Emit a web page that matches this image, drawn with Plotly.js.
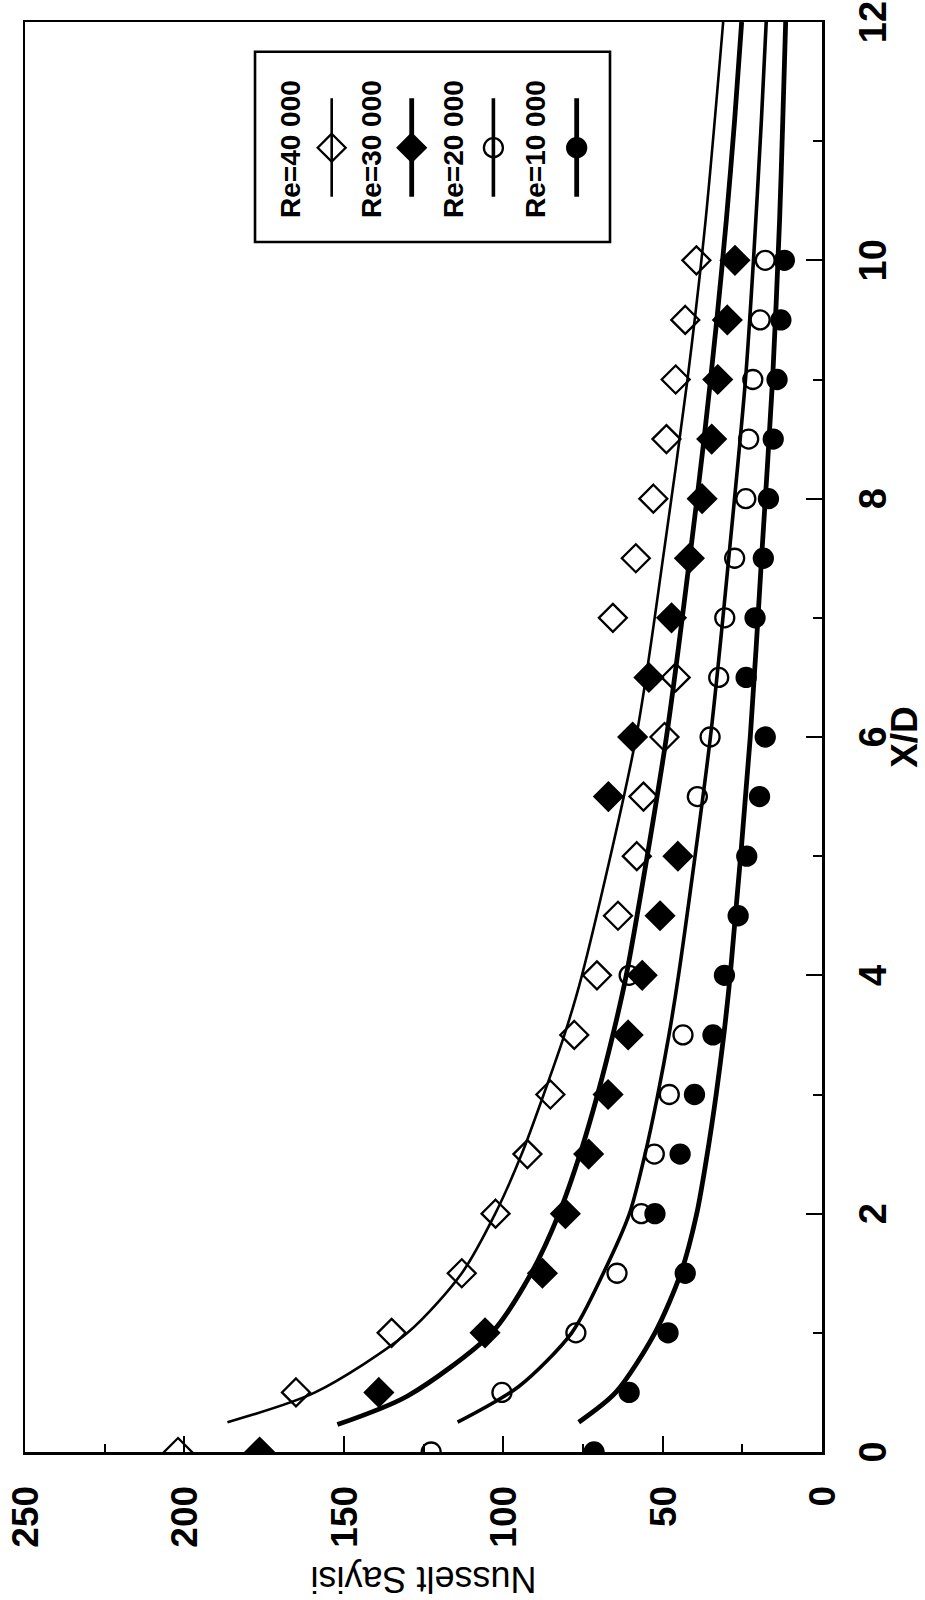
<!DOCTYPE html>
<html>
<head>
<meta charset="utf-8">
<script src="https://cdn.plot.ly/plotly-3.0.1.min.js"></script>
<style>
  html, body { margin:0; padding:0; background:#ffffff; width:925px; height:1600px; overflow:hidden; }
  #wrap { position:absolute; left:0; top:0; width:1600px; height:925px;
          transform-origin:0 0; transform:translateY(1600px) rotate(-90deg); }
  #chart { width:1600px; height:925px; }
</style>
</head>
<body>
<div id="wrap"><div id="chart"></div></div>
<script>
// ---------------- data ----------------
const seriesNames = ['Re=40 000', 'Re=30 000', 'Re=20 000', 'Re=10 000'];

// measured points: X/D positions
const xdPoints = [0, 0.5, 1, 1.5, 2, 2.5, 3, 3.5, 4, 4.5, 5, 5.5, 6, 6.5, 7, 7.5, 8, 8.5, 9, 9.5, 10];

// Nusselt numbers, measured
const nuRe40000 = [202, 165, 135, 113, 102.4, 92.4, 85.2, 77.7, 70.6, 64.0, 58.1, 56.0, 49.4, 45.9, 65.6, 58.4, 52.9, 48.8, 45.9, 42.9, 39.4];
const nuRe30000 = [176.4, 139, 105.7, 87.7, 80.5, 73.2, 67.1, 60.8, 56.4, 50.8, 45.2, 67.0, 59.4, 54.3, 47.2, 41.6, 37.6, 34.6, 32.7, 29.7, 27.3];
const nuRe20000 = [122.6, 100.4, 77.2, 64.3, 56.7, 52.6, 47.9, 43.6, 60.5, null, null, 39.1, 35.1, 32.4, 30.5, 27.4, 23.9, 23.0, 21.7, 19.4, 17.8];
const nuRe10000 = [71.5, 60.5, 48.3, 42.9, 52.4, 44.5, 40.0, 34.2, 30.6, 26.3, 23.6, 19.6, 17.8, 23.8, 21.0, 18.4, 16.8, 15.3, 14.1, 12.9, 11.8];

// fitted curves
const curveXdRe40000 = [0.25, 0.5, 1, 1.5, 2, 2.5, 3, 3.5, 4, 6, 7.57, 9, 10.34, 12];
const curveNuRe40000 = [186.5, 159, 130, 113, 102.5, 94.2, 87.3, 80.8, 75.3, 58.3, 49.5, 42.2, 36.5, 31];
const curveXdRe30000 = [0.23, 0.47, 1, 1.5, 2, 2.5, 3, 3.5, 4, 6, 7.5, 8.5, 9.5, 10.34, 11.18, 12];
const curveNuRe30000 = [152, 130, 103.6, 91.2, 82.5, 75.9, 70.4, 65.6, 61.4, 48.8, 41.5, 37, 33, 30, 27.4, 25.2];
const curveXdRe20000 = [0.25, 0.55, 1, 1.5, 2, 2.5, 3, 3.5, 4, 6, 7.57, 9, 10, 11.18, 12];
const curveNuRe20000 = [114.3, 95.1, 78.5, 68.6, 60.4, 55.5, 51.5, 48.0, 45.0, 35.0, 29.0, 24.0, 21.5, 19.0, 17.5];
const curveXdRe10000 = [0.25, 0.5, 1, 1.5, 2, 2.5, 3, 3.5, 4, 6, 7.57, 9, 10.34, 11.18, 12];
const curveNuRe10000 = [76.3, 64.7, 52.4, 44.3, 39.3, 36.0, 33.2, 30.8, 28.8, 22.5, 18.8, 15.5, 13.3, 12.3, 11.4];

const xTickVals = [0, 2, 4, 6, 8, 10, 12];
const yTickVals = [0, 50, 100, 150, 200, 250];

// ---------------- styles ----------------
const FONT = 'Liberation Sans, Arial, Helvetica, sans-serif';
const pointSets = [nuRe40000, nuRe30000, nuRe20000, nuRe10000];
const curveSets = [
  [curveXdRe40000, curveNuRe40000],
  [curveXdRe30000, curveNuRe30000],
  [curveXdRe20000, curveNuRe20000],
  [curveXdRe10000, curveNuRe10000]
];
const symbols = ['diamond-open', 'diamond', 'circle-open', 'circle'];
const symbolSizes = [21.5, 21.5, 19, 19];
const lineWidths = [2.6, 4.8, 3.6, 4.8];

const traces = [];
curveSets.forEach((c, i) => {
  traces.push({
    type: 'scatter', mode: 'lines', name: seriesNames[i] + ' fit',
    x: c[0], y: c[1],
    line: { color: '#000', width: lineWidths[i], shape: 'spline', smoothing: 0.8 },
    hoverinfo: 'skip', showlegend: false
  });
});
pointSets.forEach((p, i) => {
  traces.push({
    type: 'scatter', mode: 'markers', name: seriesNames[i],
    x: xdPoints, y: p,
    marker: { symbol: symbols[i], size: symbolSizes[i], color: '#000',
              line: { color: '#000', width: 2.3 } },
    cliponaxis: true, showlegend: false
  });
});

// ---------------- custom legend (text above a vertical sample in the final picture) ----------------
const legendBox = { x0: 0.8462, x1: 0.9792, y0: 0.2660, y1: 0.7114 };
const legendTextX = 0.9115;
const legendTextY = [0.6675, 0.5650, 0.4626, 0.3601];
const legendLineY = [0.6152, 0.5148, 0.4123, 0.3078];
const legendLineX = [0.8778, 0.9467];
const legendMarkX = 0.9121;

legendLineY.forEach((yy, i) => {
  traces.push({
    type: 'scatter', mode: 'lines', xaxis: 'x2', yaxis: 'y2',
    x: legendLineX, y: [yy, yy],
    line: { color: '#000', width: lineWidths[i] }, hoverinfo: 'skip', showlegend: false
  });
  traces.push({
    type: 'scatter', mode: 'markers', xaxis: 'x2', yaxis: 'y2',
    x: [legendMarkX], y: [yy],
    marker: { symbol: symbols[i], size: symbolSizes[i], color: '#000',
              line: { color: '#000', width: 2.3 } },
    hoverinfo: 'skip', showlegend: false
  });
});

const annotations = seriesNames.map((n, i) => ({
  xref: 'paper', yref: 'paper', x: legendTextX, y: legendTextY[i],
  xanchor: 'center', yanchor: 'middle', showarrow: false, text: n,
  font: { family: FONT, size: 28, color: '#000', weight: 'bold' }
}));

const axisCommon = {
  showgrid: false, zeroline: false, showline: true, linecolor: '#000', linewidth: 2.5,
  mirror: true, ticks: 'inside', ticklen: 16, tickwidth: 2, tickcolor: '#000',
  automargin: false, fixedrange: true
};

const layout = {
  width: 1600, height: 925,
  margin: { l: 148, r: 22, t: 25, b: 103 },
  paper_bgcolor: '#fff', plot_bgcolor: '#fff',
  showlegend: false, hovermode: false,
  font: { family: FONT, color: '#000' },
  xaxis: Object.assign({}, axisCommon, {
    range: [0, 12], tickmode: 'array', tickvals: xTickVals,
    tickfont: { family: FONT, size: 38, weight: 'bold', color: '#000' },
    ticklabelstandoff: 16,
    minor: { dtick: 1, tick0: 0, ticks: 'inside', ticklen: 9, tickwidth: 2, tickcolor: '#000', showgrid: false },
    title: { text: 'X/D', font: { family: FONT, size: 37, weight: 'bold', color: '#000' }, standoff: 8 }
  }),
  yaxis: Object.assign({}, axisCommon, {
    range: [0, 250], tickmode: 'array', tickvals: yTickVals,
    tickfont: { family: FONT, size: 37, weight: 'bold', color: '#000' },
    ticklabelstandoff: 24,
    minor: { dtick: 25, tick0: 0, ticks: 'inside', ticklen: 8, tickwidth: 2, tickcolor: '#000', showgrid: false },
    title: { text: 'Nusselt Sayisi', font: { family: FONT, size: 36, color: '#000' }, standoff: 16 }
  }),
  xaxis2: { overlaying: 'x', anchor: 'y2', range: [0, 1], visible: false, fixedrange: true },
  yaxis2: { overlaying: 'y', anchor: 'x2', range: [0, 1], visible: false, fixedrange: true },
  shapes: [{
    type: 'rect', xref: 'paper', yref: 'paper',
    x0: legendBox.x0, x1: legendBox.x1, y0: legendBox.y0, y1: legendBox.y1,
    line: { color: '#000', width: 2.6 }, fillcolor: 'rgba(0,0,0,0)', layer: 'above'
  }],
  annotations: annotations
};

Plotly.newPlot('chart', traces, layout, { staticPlot: true, displayModeBar: false });
</script>
</body>
</html>
